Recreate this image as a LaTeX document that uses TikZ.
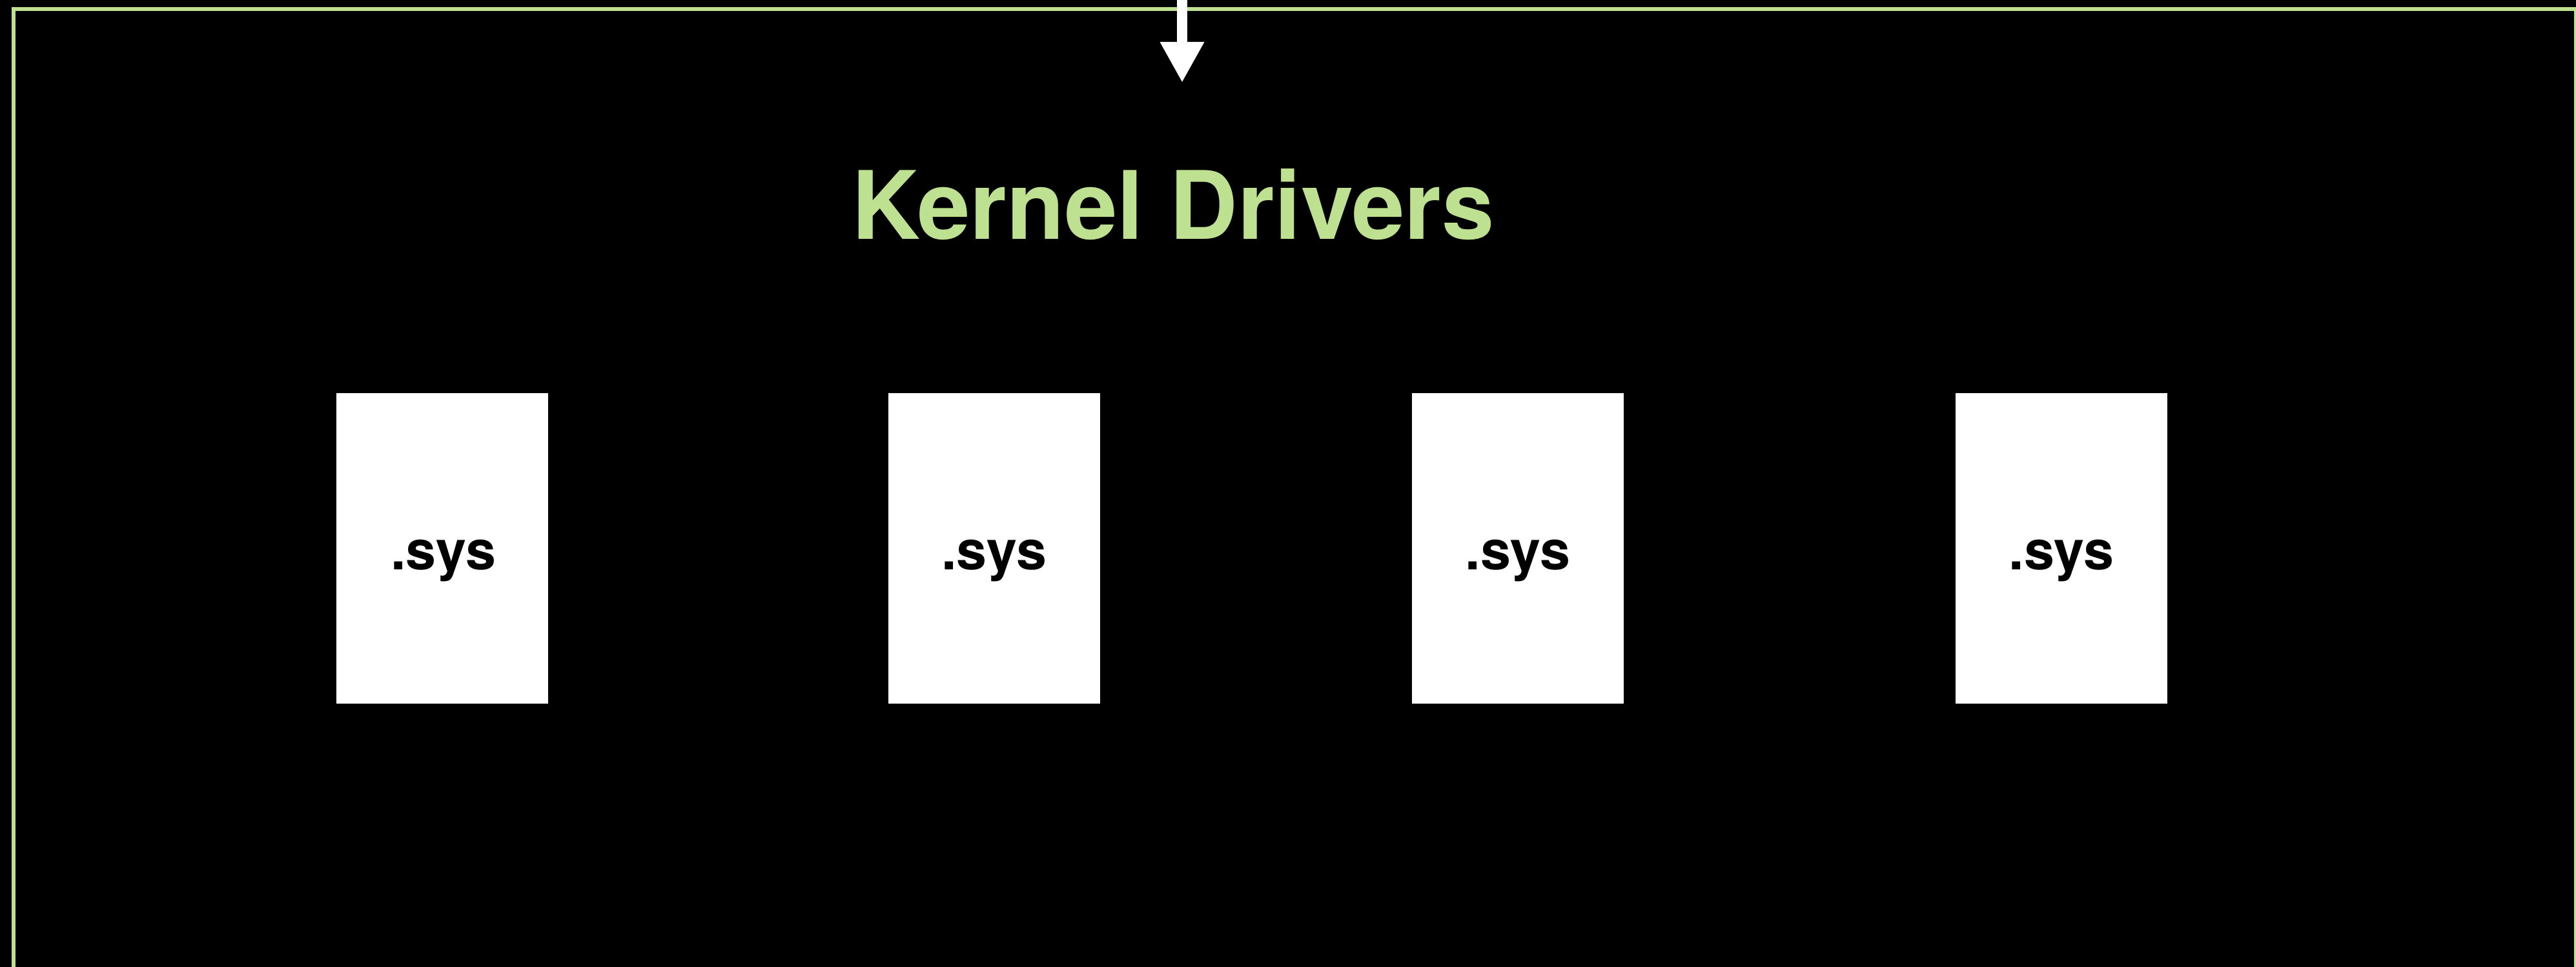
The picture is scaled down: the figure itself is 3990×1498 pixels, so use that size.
\documentclass[tikz,border=0pt]{standalone}
\usepackage{fontspec}
\setmainfont{TeX Gyre Heros}
\usetikzlibrary{arrows.meta}
\definecolor{kgreen}{RGB}{190,225,145}
\tikzset{
  frame/.style={draw=kgreen, line width=0.06cm},
  sysbox/.style={fill=white, draw=none, minimum width=3.28cm, minimum height=4.81cm, inner sep=0pt},
  syslabel/.style={anchor=base, inner sep=0pt, text=black, font=\bfseries\fontsize{24pt}{29pt}\selectfont},
  titlelabel/.style={anchor=base, inner sep=0pt, text=kgreen, font=\bfseries\fontsize{41.6pt}{48pt}\selectfont},
  flow/.style={white, line width=0.16cm, -{Triangle[width=0.64cm,length=0.63cm]}}
}
\begin{document}
\begin{tikzpicture}[x=0.01cm, y=-0.01cm]
  % canvas
  \fill[black] (0,0) rectangle (3990,1498);
  \useasboundingbox (0,0) rectangle (3990,1498);

  % kernel region outline (open at the bottom)
  \draw[frame] (21,1530) -- (21,14.5) -- (3990,14.5) -- (3990,1530);

  % incoming arrow
  \coordinate (entry) at (1831,-10);
  \coordinate (entrytip) at (1831,128);
  \draw[flow] (entry) -- (entrytip);

  % heading
  \node[titlelabel] (title) at (1817,371) {Kernel Drivers};

  % driver files
  \node[sysbox] (drv1) at (685,849.5) {};
  \node[sysbox] (drv2) at (1540,849.5) {};
  \node[sysbox] (drv3) at (2351,849.5) {};
  \node[sysbox] (drv4) at (3193,849.5) {};

  \node[syslabel] (lbl1) at (687,883) {.sys};
  \node[syslabel] (lbl2) at (1540,883) {.sys};
  \node[syslabel] (lbl3) at (2351,883) {.sys};
  \node[syslabel] (lbl4) at (3193,883) {.sys};
\end{tikzpicture}
\end{document}
